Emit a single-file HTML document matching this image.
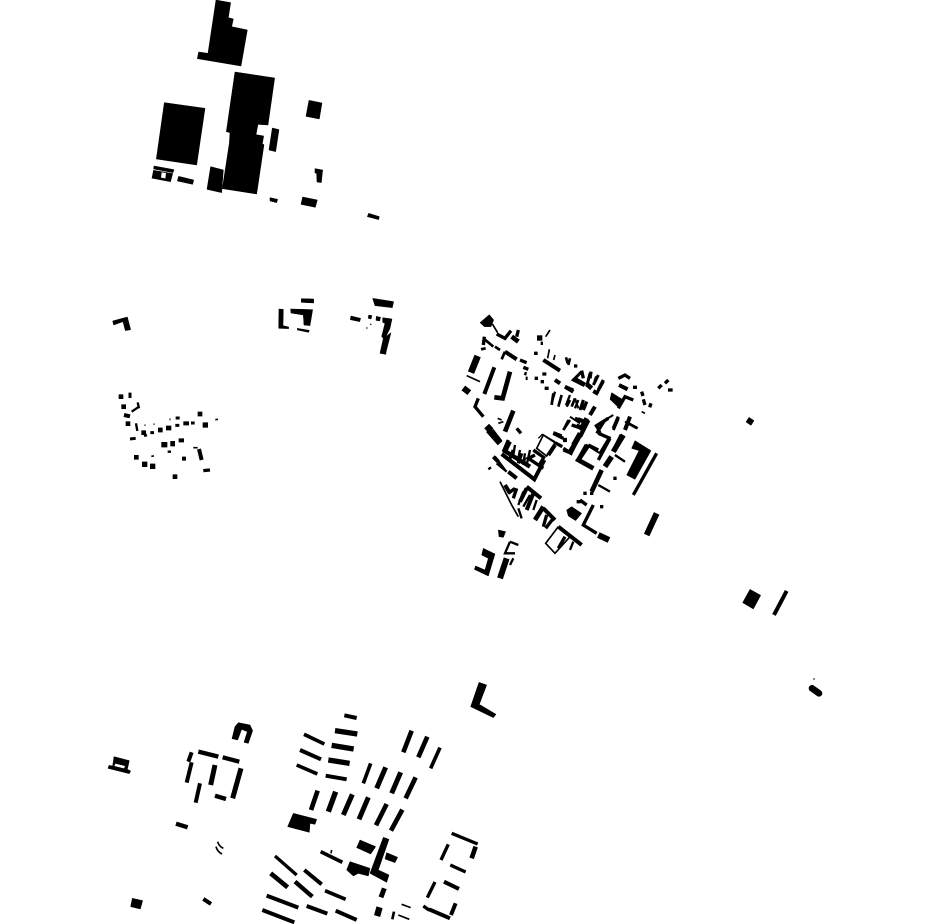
<!DOCTYPE html>
<html><head><meta charset="utf-8"><style>html,body{margin:0;padding:0;background:#fff}svg{display:block}path{fill:none;stroke:#000}polygon{fill:#000;stroke:#000;stroke-width:1.5}</style></head><body>
<svg width="930" height="924" viewBox="0 0 930 924" xmlns="http://www.w3.org/2000/svg">
<g transform="translate(140,0) scale(.3333)">
<polygon points="228,0 272,8 265,53 280,57 275,80 322,90 303,198 172,176 176,156 204,160"/>
<polygon points="285,216 404,234 384,375 354,373 348,404 371,408 367,432 372,434 350,582 247,566 268,430 270,398 259,395"/>
<polygon points="73,308 195,325 170,495 49,477"/>
<polygon points="212,500 250,510 245,578 201,568"/>
<polygon points="397,384 417,389 407,455 387,450"/>
<polygon points="507,301 546,309 538,357 498,349"/>
<polygon points="525,506 548,510 544,548 531,546 530,520 525,519"/>
<polygon points="390,593 413,598 410,608 390,603"/>
<polygon points="488,591 532,600 526,622 483,613"/>
<polygon points="686,640 718,650 716,659 682,650"/>
<polygon points="42,498 102,509 99,518 41,507"/>
<polygon fill-rule="evenodd" style="stroke:none" points="40,510 99,520 92,546 35,535 40,510 65,517 63,533 76,535 78,519 65,517"/>
<polygon points="116,529 161,540 158,553 112,543"/>
<path d="M268,428 L360,440 M250,510 L238,570" stroke="#888" stroke-width="1.5"/>
</g>
<g transform="translate(100,295) scale(.3333)">
<polygon points="38,78 82,66 92,104 76,107 69,80 41,90"/>
<polygon points="537,42 550,43 549,92 566,96 566,101 536,100"/>
<polygon points="572,42 638,44 630,92 612,90 610,60 573,54"/>
<polygon points="604,11 641,12 641,24 604,22"/>
<polygon points="592,100 628,106 626,112 592,105"/>
<polygon points="753,63 782,70 779,80 751,74"/>
<polygon points="818,10 881,20 877,38 825,32"/>
<polygon points="806,60 816,62 813,72 805,70"/>
<polygon points="829,64 842,67 839,78 828,76"/>
<polygon points="848,68 876,72 870,100 858,125 873,113 858,172 858,178 840,175 850,130 845,125 855,85 848,82"/>
<path stroke-width="3" d="M798,99 L803,99 M811,86 L814,90 M210,370 L210,376 M135,388 L135,393 M162,385 L162,390"/>
<path stroke-width="14" d="M56,305 L70,305 M64,335 L78,335 M77,386 L91,386 M124,413 L138,413 M174,405 L188,405 M198,399 L214,399 M293,357 L307,357 M102,487 L116,487 M218,545 L232,545"/>
<path stroke-width="12" d="M72,360 L90,364 M250,385 L267,385 M236,436 L252,436 M246,491 L258,491 M297,462 L305,495"/>
<path stroke-width="9" d="M226,391 L238,391 M227,369 L239,369 M273,384 L284,384 M151,413 L162,413 M90,432 L107,430 M135,417 L138,425 M90,293 L90,309"/>
<path stroke-width="7" d="M95,350 L117,335 M113,322 L117,340 M108,385 L112,408 M203,470 L213,470"/>
<path stroke-width="16" d="M308,390 L324,390 M126,508 L142,508 M150,514 L166,514 M184,449 L202,449 M211,446 L225,446"/>
<path stroke-width="5" d="M346,374 L354,373 M154,484 L162,483 M280,458 L293,458"/>
<path stroke-width="10" d="M310,527 L330,525"/>
</g>
<g transform="translate(455,310) scale(.3333)">
<polygon points="103,14 116,30 108,50 88,50 75,38"/>
<polygon points="470,248 505,270 490,292 465,268"/>
<path stroke-width="5" d="M112,42 L128,68 M285,60 L272,80 M35,197 L75,215 M283,118 L278,145 M300,135 L296,150 M128,325 L140,330 M130,340 L145,335 M560,305 L570,310"/>
<path stroke-width="10" d="M125,72 L150,85 L168,62 M190,60 L185,80 M88,80 L85,105 M195,150 L215,158 M70,265 L60,290 L85,320 M380,182 L385,205 M408,185 L405,205 M425,200 L420,215 M445,210 L430,240 M295,368 L320,378 M360,325 L385,335 M350,345 L380,355 M490,205 L510,195 L525,205 M490,295 L510,260 L535,270 M490,320 L475,355"/>
<path stroke-width="14" d="M165,185 L143,265 L118,262 M175,302 L150,365 M360,208 L390,225 M395,222 L410,235 M395,325 L380,360 M375,370 L355,405 M170,80 L190,95"/>
<path stroke-width="20" d="M68,138 L48,188 M95,348 L108,362"/>
<path stroke-width="18" d="M108,362 L135,397"/>
<path stroke-width="18" d="M25,234 L43,248"/>
<path stroke-width="12" d="M118,172 L88,252 M300,210 L315,220 M330,230 L355,245 M415,243 L430,252 M492,225 L518,238 M525,320 L510,360 M420,290 L405,315 M150,125 L185,148 M265,150 L315,182"/>
<path stroke-width="8" d="M85,85 L115,110 M78,118 L92,115 M120,110 L135,120 M140,148 L150,125 M320,255 L310,290 M345,270 L335,290 M360,265 L350,290 M385,270 L380,295 M395,275 L385,300 M345,330 L325,360 M333,142 L338,160 M345,145 L340,165 M295,250 L290,285 M520,340 L548,355"/>
<path stroke-width="16" d="M246,84 L262,84"/>
<path stroke-width="10" d="M237,130 L248,130 M257,100 L264,100 M357,168 L367,168 M205,172 L220,178 M208,190 L215,192 M212,205 L218,205 M262,192 L274,192 M239,205 L249,205 M257,215 L267,215 M269,235 L281,235 M534,232 L546,232 M185,355 L198,370 M560,245 L564,258 M565,268 L570,285 M588,280 L584,292 M640,210 L630,220 M620,225 L610,235 M639,240 L653,240 M460,325 L420,350 M425,345 L435,370"/>
<path stroke-width="4" d="M250,385 L262,373 L300,395"/>
</g>
<g transform="translate(455,430) scale(.3333)">
<polygon points="540,32 588,62 540,148 515,135 552,62 530,55"/>
<polygon points="335,240 350,230 380,250 362,272 340,258"/>
<polygon points="130,300 152,305 145,322 132,320"/>
<polygon points="85,355 120,372 100,438 58,418 62,408 90,420 100,385 80,375"/>
<path stroke-width="5" d="M265,15 L245,55 L275,78 L300,38 Z M135,155 L170,225 L190,260 M310,290 L272,340 L300,370 L345,320"/>
<path stroke-width="12" d="M140,72 L238,148 L268,90 M165,35 L150,65 M280,75 L300,45 M160,125 L185,145 M215,170 L258,205 M265,235 L300,270 M310,290 L380,345 M115,80 L130,95 M150,165 L165,190 M215,175 L195,215 M235,190 L215,240"/>
<path stroke-width="10" d="M175,60 L165,85 M200,70 L190,100 M235,60 L270,85 M295,10 L325,25 M300,38 L322,50 M325,55 L348,70 L360,45 M400,45 L430,60 M415,225 L385,285 L425,310 M180,175 L160,190 M275,255 L265,290 M295,265 L272,295 M330,320 L310,355 M430,10 L465,25 M465,25 L430,90 M185,175 L175,205"/>
<path stroke-width="14" d="M375,15 L350,60 M400,45 L370,90 L415,115 M440,120 L410,185 M265,230 L240,270"/>
<path stroke-width="16" d="M505,15 L475,65 M470,80 L450,110"/>
<path stroke-width="18" d="M100,0 L135,40 M605,250 L575,315"/>
<path stroke-width="18" d="M430,315 L462,330 M155,385 L135,445"/>
<path stroke-width="10" d="M605,70 L535,195"/>
<path stroke-width="7" d="M210,85 L205,105 M225,60 L215,105 M480,75 L510,95 M430,165 L465,185 M125,100 L155,125 M205,185 L190,225 M225,195 L205,230 M245,210 L235,240 M190,235 L200,265 M355,335 L345,360 M165,335 L190,345 M165,335 L150,370 L180,370 M175,385 L165,405 M100,118 L108,112"/>
<path stroke-width="10" d="M475,145 L485,145 M365,215 L377,215 M375,210 L395,225 M435,230 L445,230 M385,190 L395,190 M405,190 L415,190"/>
</g>
<g transform="translate(570,370) scale(.3333)">
<path stroke-width="9" d="M60,10 L50,50 M85,15 L70,45 M100,35 L80,70 M40,90 L30,120 M70,115 L60,135 M105,150 L80,190 M145,145 L130,180 M180,140 L165,175 M120,200 L90,250 M35,5 L10,30 L40,45"/>
<path stroke-width="6" d="M130,135 L105,150 M165,155 L200,175 M15,85 L25,115 M0,140 L30,160 M135,255 L165,275 M50,225 L90,250"/>
<path stroke-width="13" d="M50,145 L30,180 M155,195 L130,245 M50,225 L25,270 L70,295"/>
</g>
<g transform="translate(480,370) scale(.3333)">
<path stroke-width="10" d="M225,30 L240,40 M255,50 L280,60 M320,95 L310,120 M250,240 L275,250 M205,255 L225,225 M85,210 L70,245 M165,255 L145,265 L190,295 M190,265 L175,290 M290,165 L310,175"/>
<path stroke-width="7" d="M225,65 L215,100 M270,75 L258,105 M295,90 L285,115 M265,150 L250,180 M295,145 L320,155 M225,190 L250,205 M105,225 L100,255 M120,240 L115,265 M135,250 L130,280 M45,260 L75,300"/>
<path stroke-width="13" d="M325,150 L300,200 M300,195 L270,245 M70,240 L150,290 M249,210 L261,210"/>
</g>
<g transform="translate(100,700) scale(.3333)">
<polygon points="42,170 88,182 82,208 92,213 88,221 24,205 27,196 38,198"/>
<polygon style="fill:#fff;stroke:none" points="46,191 75,198 72,205 43,198"/>
<polygon points="415,68 450,75 458,92 445,130 432,127 442,95 425,88 413,120 396,116 405,80"/>
<polygon points="97,595 128,602 121,627 92,620"/>
<path stroke-width="12" d="M275,157 L265,185 M275,187 L260,248 M300,250 L287,308 M310,597 L333,612"/>
<path stroke-width="13" d="M295,155 L355,170 M368,172 L418,185 M345,287 L378,297 M228,371 L263,382"/>
<path stroke-width="15" d="M345,195 L332,255 M423,205 L398,295"/>
<path stroke-width="5" d="M353,425 Q356,438 370,445 M348,440 Q352,455 366,462"/>
</g>
<g transform="translate(255,700) scale(.3333)">
<polygon points="115,340 185,358 180,373 165,370 163,397 98,380"/>
<polygon points="315,420 362,440 347,462 305,443"/>
<polygon points="385,412 402,418 370,510 402,525 395,547 345,520"/>
<polygon points="395,458 428,472 420,488 390,477"/>
<polygon points="285,485 345,505 340,528 310,520 295,528 275,510"/>
<polygon points="365,620 382,625 375,650 358,645"/>
<path stroke-width="12" d="M268,46 L305,54 M212,227 L275,238 M135,150 L198,178 M35,587 L130,623 M155,618 L217,641 M22,630 L118,667 M242,632 L305,660 M148,510 L200,553 M567,545 L612,567 M522,628 L585,655 M602,610 L588,645"/>
<path stroke-width="16" d="M240,92 L307,102 M230,136 L296,147 M220,180 L284,190 M242,275 L220,335"/>
<path stroke-width="11" d="M147,103 L208,132 M125,195 L187,222 M347,190 L325,250 M555,143 L527,205 M197,455 L262,487 M210,572 L272,598"/>
<path stroke-width="14" d="M470,92 L445,157 M517,110 L490,172 M482,232 L452,295 M188,272 L168,330 M395,312 L363,376 M442,329 L408,392 M47,520 L98,562 M662,440 L650,475"/>
<path stroke-width="15" d="M392,202 L365,265 M437,217 L410,280 M292,283 L265,345 M340,292 L312,358 M388,565 L378,592"/>
<path stroke-width="10" d="M60,468 L125,525 M590,400 L668,432 M580,433 L558,480 M586,495 L632,516 M540,546 L517,593 M505,618 L522,630"/>
<path stroke-width="13" d="M120,545 L172,590"/>
<path stroke-width="8" d="M417,635 L412,658"/>
<path stroke-width="5" d="M440,613 L467,623 M230,450 L228,460 M430,645 L463,658"/>
</g>
<g transform="translate(735,410) scale(.3333)">
<polygon points="42,22 57,32 48,46 33,36"/>
<polygon points="45,538 77,556 55,597 23,578"/>
<path stroke-width="12" d="M155,543 L117,615"/>
<path stroke-width="20" stroke-linecap="round" d="M231,835 L252,850"/>
<path stroke-width="4" d="M235,807 L239,807"/>
</g>
<g transform="translate(460,675) scale(.3333)">
<polygon points="57,22 80,30 58,88 108,118 100,128 32,95"/>
</g>
</svg>
</body></html>
